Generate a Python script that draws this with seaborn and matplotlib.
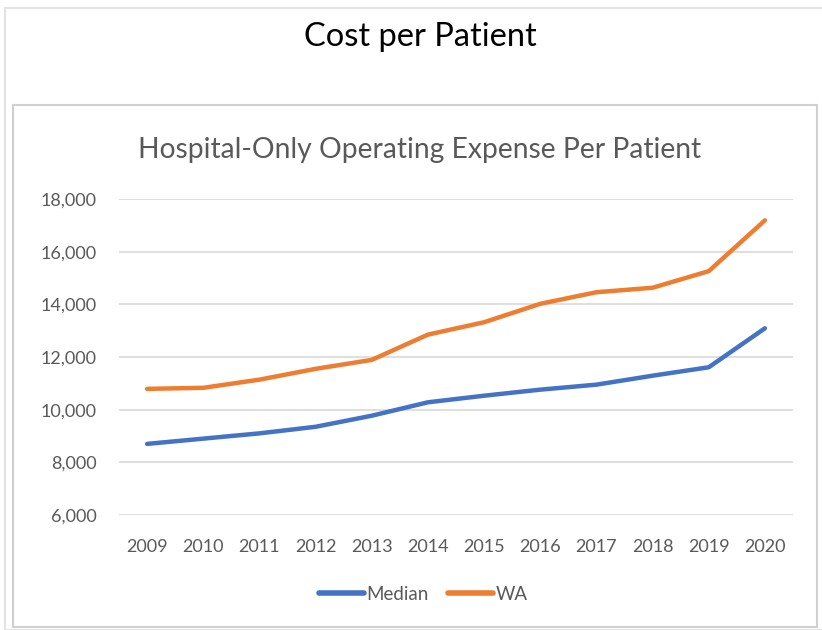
import numpy as np
import pandas as pd
import seaborn as sns
import matplotlib.pyplot as plt
from matplotlib.patches import Rectangle
from matplotlib.ticker import FuncFormatter

years = list(range(2009, 2021))
median_cost = [8700, 8900, 9100, 9350, 9770, 10280, 10530, 10760, 10950, 11290, 11610, 13090]
wa_cost = [10790, 10830, 11140, 11550, 11890, 12850, 13320, 14020, 14460, 14630, 15260, 17190]
series_names = ['Median', 'WA']
series_colors = ['#4472C4', '#ED7D31']

df = pd.DataFrame({
    'Year': years * 2,
    'Cost': median_cost + wa_cost,
    'Series': [series_names[0]] * len(years) + [series_names[1]] * len(years),
})

sns.set_theme(style='white')
plt.rcParams['font.family'] = ['Lato', 'DejaVu Sans']

W, H = 822, 630
fig = plt.figure(figsize=(W / 100, H / 100), dpi=100)
fig.patch.set_facecolor('white')

# frames: outer slide box and inner chart box
fig.patches.append(Rectangle((5 / W, 0), 1, 1 - 8 / H, transform=fig.transFigure,
                             fill=False, edgecolor='#E3E3E3', linewidth=1.5))
fig.patches.append(Rectangle((13 / W, 1 - 627 / H), 804 / W, (627 - 105) / H,
                             transform=fig.transFigure, fill=False,
                             edgecolor='#D0D0D0', linewidth=1.5))

fig.text(420 / W, 1 - 37 / H, 'Cost per Patient', ha='center', va='center',
         fontsize=23.5, color='black')

ax = fig.add_axes([119 / W, 1 - 515 / H, (793 - 119) / W, (515 - 199) / H])
sns.lineplot(data=df, x='Year', y='Cost', hue='Series', palette=series_colors,
             linewidth=3.2, ax=ax, legend=False)

ax.set_xlim(2008.5, 2020.5)
ax.set_ylim(6000, 18000)
ax.set_xticks(years)
ax.set_yticks(range(6000, 18001, 2000))
ax.yaxis.set_major_formatter(FuncFormatter(lambda v, p: f'{int(v):,}'))
ax.grid(axis='y', color='#D9D9D9', linewidth=1.2)
ax.set_axisbelow(True)
for s in ax.spines.values():
    s.set_visible(False)
ax.tick_params(axis='both', length=0, labelsize=13, labelcolor='#595959')
ax.tick_params(axis='x', pad=17)
ax.tick_params(axis='y', pad=16)
ax.set_xlabel('')
ax.set_ylabel('')

fig.text(420 / W, 1 - 150 / H, 'Hospital-Only Operating Expense Per Patient',
         ha='center', va='center', fontsize=20.3, color='#595959')

handles = [plt.Line2D([], [], color=c, linewidth=4) for c in series_colors]
fig.legend(handles, series_names, loc='center', bbox_to_anchor=(423 / W, 1 - 594 / H),
           ncol=2, frameon=False, fontsize=13.5, labelcolor='#595959',
           handlelength=2.4, handletextpad=0.15, columnspacing=1.0)

fig.savefig('out.png', dpi=100)
